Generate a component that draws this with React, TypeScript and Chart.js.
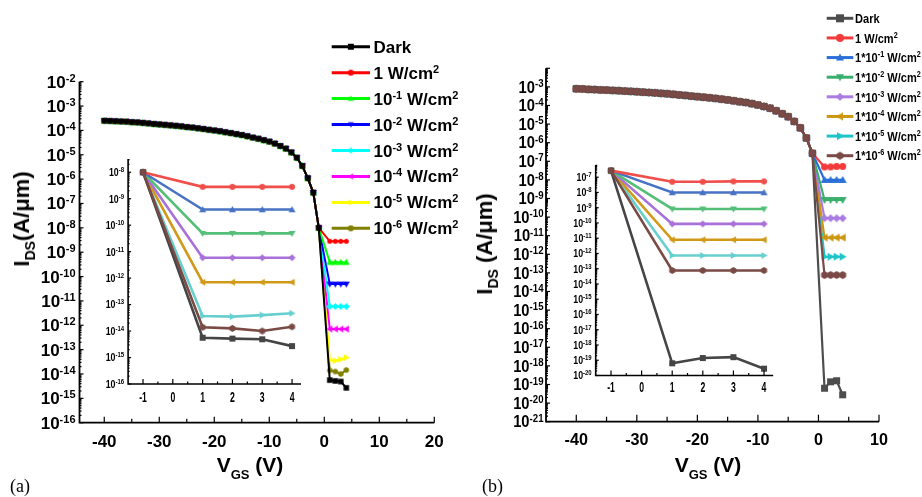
import React, { useEffect, useRef } from 'react';
import { Chart, registerables } from 'chart.js';

Chart.register(...registerables);

// ---------------- DATA ----------------
// gate voltage sweep (V) in the off-to-on transition region
const vgsOff = [-40, -39, -38, -37, -36, -35, -34, -33, -32, -31, -30, -29, -28, -27, -26, -25, -24, -23, -22, -21,
  -20, -19, -18, -17, -16, -15, -14, -13, -12, -11, -10, -9, -8, -7, -6, -5, -4, -3, -2, -1];
const vgsOn = [1, 2, 3, 4];

// panel (a): shared curve for V_GS = -40 ... -1 (A/um)
const offCurveA = [2.5e-4, 2.45e-4, 2.4e-4, 2.35e-4, 2.3e-4, 2.2e-4, 2.15e-4, 2.05e-4, 1.95e-4, 1.85e-4,
  1.78e-4, 1.7e-4, 1.62e-4, 1.55e-4, 1.48e-4, 1.38e-4, 1.32e-4, 1.23e-4, 1.15e-4, 1.07e-4,
  1.0e-4, 9.3e-5, 8.5e-5, 7.8e-5, 7.1e-5, 6.5e-5, 5.8e-5, 5.1e-5, 4.6e-5, 4.0e-5,
  3.5e-5, 2.9e-5, 2.3e-5, 1.8e-5, 1.26e-5, 7.6e-6, 3.5e-6, 1.1e-6, 2.8e-7, 1.0e-8];
// panel (a): V_GS = 1..4
const onDarkA = [5.6e-15, 5.2e-15, 4.9e-15, 2.7e-15];
const on1A = [2.8e-9, 2.8e-9, 2.8e-9, 2.8e-9];
const onM1A = [3.9e-10, 3.9e-10, 3.9e-10, 3.9e-10];
const onM2A = [4.9e-11, 4.9e-11, 4.9e-11, 4.9e-11];
const onM3A = [5.9e-12, 5.9e-12, 5.9e-12, 5.9e-12];
const onM4A = [7.0e-13, 7.0e-13, 7.0e-13, 7.0e-13];
const onM5A = [3.7e-14, 3.5e-14, 4.0e-14, 4.7e-14];
const onM6A = [1.4e-14, 1.26e-14, 1.0e-14, 1.45e-14];

// panel (b): shared curve for V_GS = -40 ... -1
const offCurveB = [7.9e-4, 7.8e-4, 7.4e-4, 7.2e-4, 6.9e-4, 6.8e-4, 6.5e-4, 6.3e-4, 6.0e-4, 5.75e-4,
  5.5e-4, 5.25e-4, 5.0e-4, 4.8e-4, 4.5e-4, 4.3e-4, 4.0e-4, 3.7e-4, 3.5e-4, 3.2e-4,
  3.0e-4, 2.8e-4, 2.6e-4, 2.4e-4, 2.2e-4, 2.0e-4, 1.8e-4, 1.6e-4, 1.45e-4, 1.26e-4,
  1.07e-4, 8.9e-5, 7.2e-5, 5.2e-5, 3.6e-5, 2.5e-5, 1.4e-5, 6.3e-6, 1.8e-6, 2.7e-7];
const onDarkB = [6.3e-20, 1.4e-19, 1.6e-19, 2.8e-20];
const on1B = [5.0e-8, 5.0e-8, 5.3e-8, 5.3e-8];
const onM1B = [1.0e-8, 1.0e-8, 1.0e-8, 1.0e-8];
const onM2B = [8.3e-10, 8.3e-10, 8.3e-10, 8.3e-10];
const onM3B = [8.7e-11, 8.7e-11, 8.7e-11, 8.7e-11];
const onM4B = [7.9e-12, 7.9e-12, 7.9e-12, 7.9e-12];
const onM5B = [7.4e-13, 7.4e-13, 7.4e-13, 7.4e-13];
const onM6B = [7.7e-14, 7.7e-14, 7.7e-14, 7.7e-14];

// legend: light intensity exponents (null = Dark, 0 = 1 W/cm2)
const intensityExps = [null, 0, -1, -2, -3, -4, -5, -6];

// tick labels
const xTicksA = [-40, -30, -20, -10, 0, 10, 20];
const xMinorA = [-35, -25, -15, -5, 5, 15];
const xTicksB = [-40, -30, -20, -10, 0, 10];
const xMinorB = [-35, -25, -15, -5, 5];
const yExpA = [-2, -3, -4, -5, -6, -7, -8, -9, -10, -11, -12, -13, -14, -15, -16];
const yExpB = [-3, -4, -5, -6, -7, -8, -9, -10, -11, -12, -13, -14, -15, -16, -17, -18, -19, -20, -21];
const insetXTicks = [-1, 0, 1, 2, 3, 4];
const insetXMinor = [-0.5, 0.5, 1.5, 2.5, 3.5];
const insetYExpA = [-8, -9, -10, -11, -12, -13, -14, -15, -16];
const insetYExpB = [-7, -8, -9, -10, -11, -12, -13, -14, -15, -16, -17, -18, -19, -20];

// ---------------- STYLE ----------------
const FF = '"Liberation Sans", Arial, Helvetica, sans-serif';
const colorsMainA = ['#000000', '#FF0000', '#00FF00', '#0000FF', '#00FFFF', '#FF00FF', '#FFFF00', '#808000'];
const colorsB = ['#4D4D4D', '#F23B3B', '#2A6FD8', '#3AAE6C', '#A97BE3', '#CC960E', '#1DC4C8', '#7A4A46'];
const colorsInset = ['#454545', '#F04E4A', '#4872C4', '#55BF78', '#A870D8', '#D09A18', '#68CFCF', '#7A4A45'];
const shapesA = ['square', 'circle', 'triUp', 'triDown', 'diamond', 'triLeft', 'triRight', 'circle'];
const shapesB = ['square', 'circle', 'triUp', 'triDown', 'diamond', 'triLeft', 'triRight', 'hexagon'];

type Seg = { t: string; f: string; dy?: number };

function segWidth(ctx: CanvasRenderingContext2D, segs: Seg[], sx: number) {
  let w = 0;
  for (const s of segs) { ctx.font = s.f; w += ctx.measureText(s.t).width; }
  return w * sx;
}

function drawRich(ctx: CanvasRenderingContext2D, segs: Seg[], x: number, y: number, align: string, sx = 1) {
  const w = segWidth(ctx, segs, sx);
  let cx = align === 'left' ? x : align === 'right' ? x - w : x - w / 2;
  ctx.textAlign = 'left';
  ctx.textBaseline = 'alphabetic';
  ctx.fillStyle = '#000';
  for (const s of segs) {
    ctx.font = s.f;
    const sw = ctx.measureText(s.t).width;
    ctx.save();
    ctx.translate(cx, y + (s.dy || 0));
    ctx.scale(sx, 1);
    ctx.fillText(s.t, 0, 0);
    ctx.restore();
    cx += sw * sx;
  }
}

function makeMarker(shape: string, color: string, s: number): HTMLCanvasElement {
  const c = document.createElement('canvas');
  const n = Math.ceil(s) + 2;
  c.width = n; c.height = n;
  const g = c.getContext('2d')!;
  const m = n / 2, h = s / 2;
  g.fillStyle = color;
  g.beginPath();
  switch (shape) {
    case 'square': g.rect(m - h, m - h, s, s); break;
    case 'circle': g.arc(m, m, h, 0, Math.PI * 2); break;
    case 'diamond': g.moveTo(m, m - h); g.lineTo(m + h, m); g.lineTo(m, m + h); g.lineTo(m - h, m); break;
    case 'triUp': g.moveTo(m, m - h); g.lineTo(m + h, m + h * 0.75); g.lineTo(m - h, m + h * 0.75); break;
    case 'triDown': g.moveTo(m, m + h); g.lineTo(m + h, m - h * 0.75); g.lineTo(m - h, m - h * 0.75); break;
    case 'triLeft': g.moveTo(m - h, m); g.lineTo(m + h * 0.75, m - h); g.lineTo(m + h * 0.75, m + h); break;
    case 'triRight': g.moveTo(m + h, m); g.lineTo(m - h * 0.75, m - h); g.lineTo(m - h * 0.75, m + h); break;
    case 'hexagon':
      for (let k = 0; k < 6; k++) {
        const an = -Math.PI / 2 + k * Math.PI / 3;
        const px = m + h * Math.cos(an), py = m + h * Math.sin(an);
        if (k === 0) g.moveTo(px, py); else g.lineTo(px, py);
      }
      break;
  }
  g.closePath();
  g.fill();
  return c;
}

interface LegendCfg {
  colors: string[]; shapes: string[]; size: number; labels: Seg[][];
  x0: number; x1: number; y0: number; dy: number; lw: number; tx: number; capHalf: number; sx: number;
}

interface AxisStyle {
  xMajor: number[]; xMinor: number[]; xLabels: number[]; xFont: string; xLabelDy: number; xSx: number;
  yExps: number[]; yBase: string; ySup: string; ySupRaise: number; yCapHalf: number; yGap: number; ySx: number;
  majX: number; minX: number; majY: number; minY: number; lw: number; tickW: number; yMinor: boolean;
  legend?: LegendCfg;
}

function drawLegend(ctx: CanvasRenderingContext2D, L: LegendCfg) {
  L.labels.forEach((segs, i) => {
    const y = L.y0 + i * L.dy;
    ctx.strokeStyle = L.colors[i];
    ctx.lineWidth = L.lw;
    ctx.beginPath(); ctx.moveTo(L.x0, y); ctx.lineTo(L.x1, y); ctx.stroke();
    const mk = makeMarker(L.shapes[i], L.colors[i], L.size);
    ctx.drawImage(mk, (L.x0 + L.x1) / 2 - mk.width / 2, y - mk.height / 2);
    drawRich(ctx, segs, L.tx, y + L.capHalf, 'left', L.sx);
  });
}

function axesPlugin(st: AxisStyle) {
  return {
    id: 'customAxes',
    afterDraw(chart: any) {
      const ctx = chart.ctx as CanvasRenderingContext2D;
      const a = chart.chartArea;
      const xs = chart.scales.x;
      const ys = chart.scales.y;
      ctx.save();
      ctx.strokeStyle = '#000';
      ctx.lineWidth = st.lw;
      ctx.beginPath();
      ctx.moveTo(a.left, a.top); ctx.lineTo(a.left, a.bottom); ctx.lineTo(a.right, a.bottom);
      ctx.stroke();
      ctx.lineWidth = st.tickW;
      const seg = (x1: number, y1: number, x2: number, y2: number) => {
        ctx.beginPath(); ctx.moveTo(x1, y1); ctx.lineTo(x2, y2); ctx.stroke();
      };
      for (const v of st.xMajor) { const p = xs.getPixelForValue(v); seg(p, a.bottom, p, a.bottom - st.majX); }
      for (const v of st.xMinor) { const p = xs.getPixelForValue(v); seg(p, a.bottom, p, a.bottom - st.minX); }
      const lo = Math.floor(Math.log10(ys.min)), hi = Math.ceil(Math.log10(ys.max));
      for (let e = lo; e <= hi; e++) {
        for (let k = 1; k <= 9; k++) {
          if (k > 1 && !st.yMinor) continue;
          const v = k * Math.pow(10, e);
          if (v < ys.min * 0.999 || v > ys.max * 1.001) continue;
          const p = ys.getPixelForValue(v);
          seg(a.left, p, a.left + (k === 1 ? st.majY : st.minY), p);
        }
      }
      for (const v of st.xLabels) {
        drawRich(ctx, [{ t: String(v), f: st.xFont }], xs.getPixelForValue(v), a.bottom + st.xLabelDy, 'center', st.xSx);
      }
      for (const e of st.yExps) {
        const p = ys.getPixelForValue(Math.pow(10, e));
        drawRich(ctx, [{ t: '10', f: st.yBase }, { t: String(e), f: st.ySup, dy: -st.ySupRaise }],
          a.left - st.yGap, p + st.yCapHalf, 'right', st.ySx);
      }
      if (st.legend) drawLegend(ctx, st.legend);
      ctx.restore();
    },
  };
}

function mainData(off: number[], on: number[]) {
  return vgsOff.map((v, i) => ({ x: v, y: off[i] })).concat(vgsOn.map((v, i) => ({ x: v, y: on[i] })));
}
function insetData(off: number[], on: number[]) {
  return [{ x: vgsOff[vgsOff.length - 1], y: off[off.length - 1] }].concat(vgsOn.map((v, i) => ({ x: v, y: on[i] })));
}

function makeConfig(datasets: any[], pad: any, xr: number[], yr: number[], st: AxisStyle): any {
  return {
    type: 'line',
    data: { datasets },
    options: {
      responsive: false,
      maintainAspectRatio: false,
      animation: false,
      events: [],
      layout: { padding: pad },
      plugins: { legend: { display: false }, tooltip: { enabled: false }, title: { display: false } },
      scales: {
        x: { type: 'linear', min: xr[0], max: xr[1], display: false, bounds: 'data' },
        y: { type: 'logarithmic', min: yr[0], max: yr[1], display: false, bounds: 'data' },
      },
    },
    plugins: [axesPlugin(st)],
  };
}

function series(data: any[], color: string, marker: HTMLCanvasElement, lw: number, order = 1) {
  return {
    data, borderColor: color, backgroundColor: color, borderWidth: lw,
    pointStyle: marker, pointRadius: 4, pointHoverRadius: 4, tension: 0, fill: false, order,
  };
}

function legendLabelsA(base: string, sup: string, raise: number): Seg[][] {
  return intensityExps.map((e) => {
    if (e === null) return [{ t: 'Dark', f: base }];
    if (e === 0) return [{ t: '1 W/cm', f: base }, { t: '2', f: sup, dy: -raise }];
    return [{ t: '10', f: base }, { t: String(e), f: sup, dy: -raise }, { t: ' W/cm', f: base }, { t: '2', f: sup, dy: -raise }];
  });
}
function legendLabelsB(base: string, sup: string, raise: number): Seg[][] {
  return intensityExps.map((e) => {
    if (e === null) return [{ t: 'Dark', f: base }];
    if (e === 0) return [{ t: '1 W/cm', f: base }, { t: '2', f: sup, dy: -raise }];
    return [{ t: '1*10', f: base }, { t: String(e), f: sup, dy: -raise }, { t: ' W/cm', f: base }, { t: '2', f: sup, dy: -raise }];
  });
}

export default function App() {
  const cA = useRef<HTMLCanvasElement>(null);
  const cB = useRef<HTMLCanvasElement>(null);
  const cAi = useRef<HTMLCanvasElement>(null);
  const cBi = useRef<HTMLCanvasElement>(null);

  useEffect(() => {
    const charts: Chart[] = [];
    const onA = [onDarkA, on1A, onM1A, onM2A, onM3A, onM4A, onM5A, onM6A];
    const onB = [onDarkB, on1B, onM1B, onM2B, onM3B, onM4B, onM5B, onM6B];
    const sizesA = [5.5, 5, 7, 7, 7, 7, 7, 5.5];
    const sizesB = [7, 7, 8, 8, 8, 8, 8, 8];
    const sizesI = [6, 6, 7, 7, 7, 7, 7, 7];

    // ---- panel (a) main ----
    const dsA = onA.map((on, i) => series(mainData(offCurveA, on), colorsMainA[i],
      makeMarker(shapesA[i], colorsMainA[i], sizesA[i]), 2));
    const stA: AxisStyle = {
      xMajor: xTicksA, xMinor: xMinorA, xLabels: xTicksA, xFont: `bold 17px ${FF}`, xLabelDy: 24, xSx: 1,
      yExps: yExpA, yBase: `bold 17px ${FF}`, ySup: `bold 11px ${FF}`, ySupRaise: 6, yCapHalf: 6, yGap: 4, ySx: 1,
      majX: 6, minX: 4, majY: 4, minY: 2, lw: 1.8, tickW: 1.2, yMinor: true,
      legend: {
        colors: colorsMainA, shapes: shapesA, size: 6, labels: legendLabelsA(`bold 17px ${FF}`, `bold 11px ${FF}`, 6),
        x0: 331.7, x1: 370, y0: 46.7, dy: 25.95, lw: 3, tx: 373.5, capHalf: 6, sx: 1,
      },
    };
    charts.push(new Chart(cA.current!, makeConfig(dsA, { left: 79.5, right: 922 - 434.3, top: 81.7, bottom: 497 - 422.7 },
      [-44.5, 20], [1e-16, 1e-2], stA)));

    // ---- panel (b) main ----
    const dsB = onB.map((on, i) => series(mainData(offCurveB, on), colorsB[i],
      makeMarker(shapesB[i], colorsB[i], sizesB[i]), 2.2, i === 7 ? 0 : 1));
    const stB: AxisStyle = {
      xMajor: xTicksB, xMinor: xMinorB, xLabels: xTicksB, xFont: `bold 17px ${FF}`, xLabelDy: 23.3, xSx: 0.95,
      yExps: yExpB, yBase: `bold 16px ${FF}`, ySup: `bold 10.5px ${FF}`, ySupRaise: 5.5, yCapHalf: 5.6, yGap: 2.5, ySx: 0.92,
      majX: 7, minX: 5, majY: 4, minY: 2, lw: 1.8, tickW: 1.2, yMinor: true,
      legend: {
        colors: colorsB, shapes: shapesB, size: 8, labels: legendLabelsB(`bold 13px ${FF}`, `bold 8.5px ${FF}`, 5),
        x0: 826.7, x1: 853.3, y0: 18.3, dy: 19.63, lw: 3, tx: 855, capHalf: 4.7, sx: 0.85,
      },
    };
    charts.push(new Chart(cB.current!, makeConfig(dsB, { left: 546, right: 922 - 879, top: 68.3, bottom: 497 - 421.7 },
      [-45, 10], [1e-21, 1e-2], stB)));

    // ---- insets ----
    const stI = (exps: number[], dy: number): AxisStyle => ({
      xMajor: insetXTicks, xMinor: insetXMinor, xLabels: insetXTicks, xFont: `bold 14px ${FF}`, xLabelDy: dy, xSx: 0.62,
      yExps: exps, yBase: `bold 11px ${FF}`, ySup: `bold 7.5px ${FF}`, ySupRaise: 4, yCapHalf: 3.9, yGap: 4, ySx: 0.8,
      majX: 5, minX: 2.5, majY: 3, minY: 1.5, lw: 1.6, tickW: 1.2, yMinor: true,
    });
    const dsAi = onA.map((on, i) => series(insetData(offCurveA, on), colorsInset[i],
      makeMarker(shapesB[i], colorsInset[i], sizesI[i]), 2.6, i === 7 ? 0 : 1));
    charts.push(new Chart(cAi.current!, makeConfig(dsAi, { left: 128.1, right: 922 - 301, top: 159, bottom: 497 - 384 },
      [-1.5, 4.3], [1e-16, Math.pow(10, -7.5)], stI(insetYExpA, 18))));
    const dsBi = onB.map((on, i) => series(insetData(offCurveB, on), colorsInset[i],
      makeMarker(shapesB[i], colorsInset[i], sizesI[i]), 2.6, i === 7 ? 0 : 1));
    charts.push(new Chart(cBi.current!, makeConfig(dsBi, { left: 595.7, right: 922 - 773.2, top: 165, bottom: 497 - 375.5 },
      [-1.5, 4.3], [1e-20, Math.pow(10, -6.2)], stI(insetYExpB, 16))));

    return () => charts.forEach((c) => c.destroy());
  }, []);

  const abs: React.CSSProperties = { position: 'absolute', left: 0, top: 0 };
  const yTitle = (cx: number, cy: number): React.CSSProperties => ({
    position: 'absolute', left: cx, top: cy, transform: 'translate(-50%,-50%) rotate(-90deg)',
    font: `bold 22px ${FF}`, lineHeight: '22px', whiteSpace: 'nowrap', color: '#000',
  });
  const xTitle = (cx: number): React.CSSProperties => ({
    position: 'absolute', left: cx, top: 454, transform: 'translateX(-50%)',
    font: `bold 21px ${FF}`, lineHeight: '21px', whiteSpace: 'nowrap', color: '#000',
  });
  const sub: React.CSSProperties = { fontSize: 13, position: 'relative', top: 7 };
  const subY: React.CSSProperties = { fontSize: 14, position: 'relative', top: 6 };
  const panel = (x: number): React.CSSProperties => ({
    position: 'absolute', left: x, top: 477, font: '18px "Liberation Serif", "Times New Roman", serif',
    lineHeight: '18px', color: '#000',
  });

  return (
    <div style={{ position: 'absolute', left: 0, top: 0, width: 922, height: 497, background: '#fff', overflow: 'hidden' }}>
      <canvas ref={cA} width={922} height={497} style={abs} />
      <canvas ref={cB} width={922} height={497} style={abs} />
      <canvas ref={cAi} width={922} height={497} style={abs} />
      <canvas ref={cBi} width={922} height={497} style={abs} />
      <div style={yTitle(23, 219)}>I<span style={subY}>DS</span>(A/μm)</div>
      <div style={yTitle(486, 244)}>I<span style={subY}>DS</span> (A/μm)</div>
      <div style={xTitle(250)}>V<span style={sub}>GS</span> (V)</div>
      <div style={xTitle(708)}>V<span style={sub}>GS</span> (V)</div>
      <div style={panel(10)}>(a)</div>
      <div style={panel(482)}>(b)</div>
    </div>
  );
}
